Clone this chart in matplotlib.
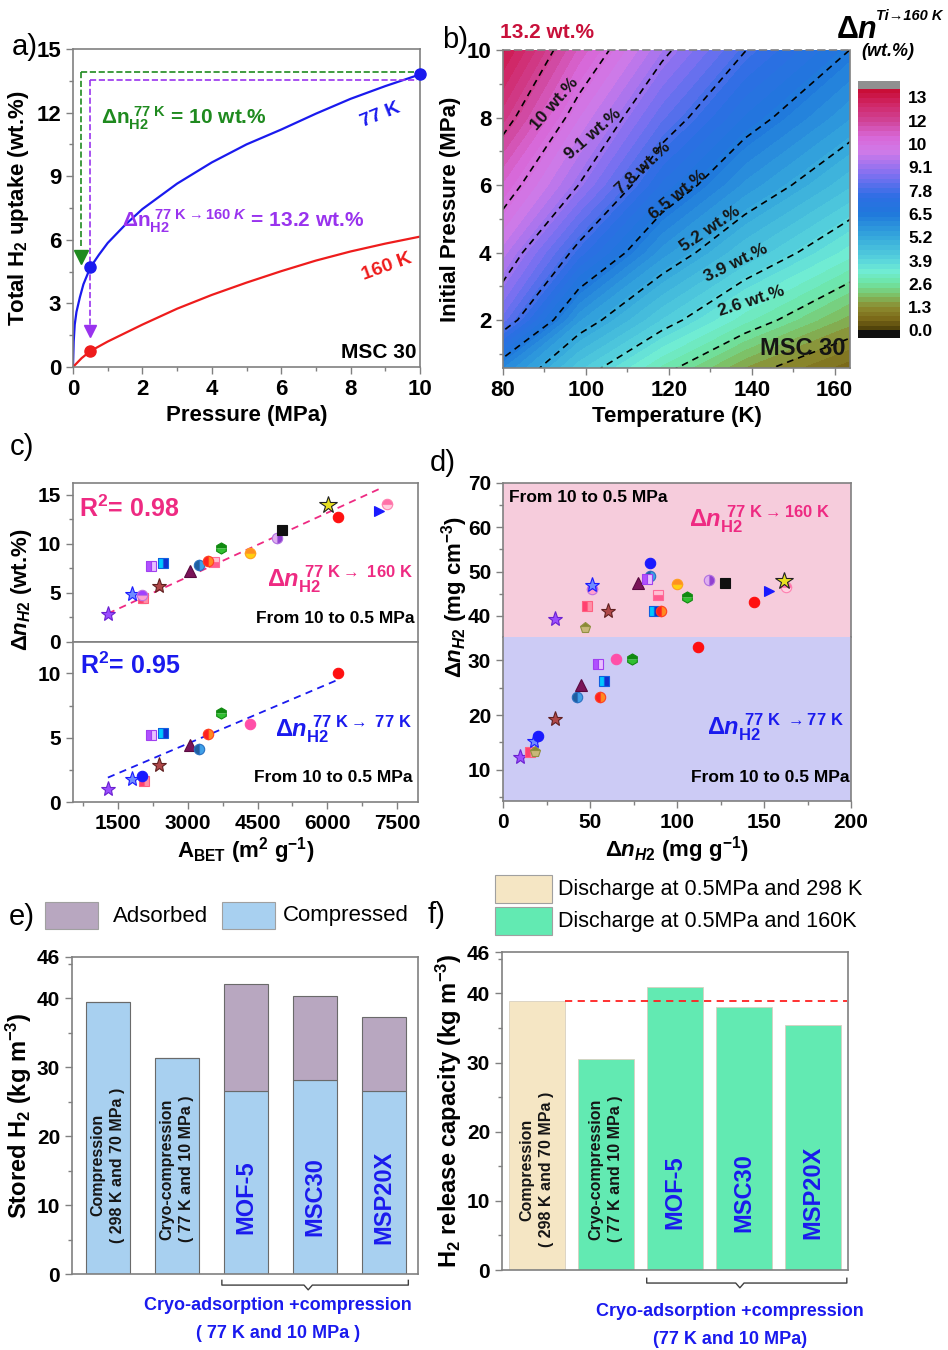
"""Hydrogen storage summary figure: isotherms, delivery map, correlations, bar charts.

Six panels laid out on one 948x1350 px canvas; axes are placed by pixel boxes.
"""

import matplotlib

matplotlib.use("Agg")
import matplotlib.pyplot as plt
import numpy as np
from matplotlib.colors import LinearSegmentedColormap
from matplotlib.patches import Rectangle
from matplotlib.ticker import MultipleLocator

# ---------------------------------------------------------------- data
# a) MSC 30 isotherms (pressure in MPa, uptake in wt.%)
a_p77 = [0, 0.02, 0.05, 0.1, 0.2, 0.3, 0.5, 0.75, 1, 1.5, 2, 3, 4, 5, 6, 7, 8, 9, 10]
a_n77 = [0, 1.2, 2.0, 2.6, 3.3, 3.9, 4.7, 5.3, 5.85, 6.7, 7.45, 8.65, 9.65, 10.5,
         11.2, 11.95, 12.65, 13.25, 13.8]
a_p160 = [0, 0.25, 0.5, 1, 2, 3, 4, 5, 6, 7, 8, 9, 10]
a_n160 = [0, 0.42, 0.75, 1.2, 2.0, 2.75, 3.4, 3.98, 4.52, 5.02, 5.45, 5.82, 6.15]

# b) deliverable amount (wt.%) read on a coarse temperature x pressure grid
b_temp = [78.3, 98.3, 118.3, 138.3, 164.0]
b_pres = [0.5, 2, 4, 6, 8, 10]
b_dn = [
    [6.14, 4.22, 2.75, 1.48, 0.55],
    [8.58, 5.58, 4.20, 3.00, 1.70],
    [9.83, 7.56, 5.68, 4.51, 3.28],
    [10.97, 9.09, 7.08, 5.74, 4.52],
    [12.20, 10.06, 8.26, 6.84, 5.56],
    [13.20, 11.05, 9.28, 7.83, 6.48],
]
b_line_levels = [1.3, 2.6, 3.9, 5.2, 6.5, 7.8, 9.1, 10.4, 11.7]
b_label_text = ["10 wt.%", "9.1 wt.%", "7.8 wt.%", "6.5 wt.%", "5.2 wt.%", "3.9 wt.%", "2.6 wt.%"]
b_label_t = [92.5, 101.7, 113.7, 122.2, 129.9, 136.3, 140.0]
b_label_p = [8.4, 7.5, 6.5, 5.7, 4.7, 3.7, 2.55]
b_label_rot = [49, 41, 43, 39, 34, 26, 18]
b_cbar_ticks = [0, 1.3, 2.6, 3.9, 5.2, 6.5, 7.8, 9.1, 10.4, 11.7, 13.0]
b_cbar_labels = ["0.0", "1.3", "2.6", "3.9", "5.2", "6.5", "7.8", "9.1", "10", "12", "13"]

# c) delivered amount vs BET surface area
c_top_mat = ["star_violet", "star_blue", "pent_olive", "sq_red_pink", "circ_purple_pink",
             "sq_purple", "sq_cyan", "star_brown", "tri_maroon", "circ_steel", "sq_pink",
             "circ_red_orange", "hex_green", "circ_orange", "circ_violet", "sq_black",
             "star_yellow", "circ_red", "tri_blue", "circ_pink_half"]
c_top_x = [1280, 1790, 2030, 2040, 2010, 2210, 2460, 2380, 3040, 3240, 3560, 3440, 3710,
           4330, 4910, 5030, 6020, 6220, 7110, 7280]
c_top_y = [2.9, 4.9, 4.4, 4.5, 4.8, 7.7, 8.0, 5.7, 7.2, 7.8, 8.2, 8.3, 9.6, 9.1, 10.6,
           11.4, 14.0, 12.7, 13.3, 14.1]
c_top_fit_x = [1280, 7120]
c_top_fit_y = [2.9, 15.6]

c_bot_mat = ["star_violet", "star_blue", "sq_red_pink", "circ_blue", "sq_purple", "sq_cyan",
             "star_brown", "tri_maroon", "circ_steel", "circ_red_orange", "hex_green",
             "circ_pink", "circ_red"]
c_bot_x = [1280, 1790, 2050, 2010, 2210, 2460, 2380, 3040, 3240, 3440, 3710, 4330, 6220]
c_bot_y = [1.0, 1.8, 1.6, 2.0, 5.2, 5.4, 2.9, 4.4, 4.1, 5.3, 6.9, 6.1, 10.0]
c_bot_fit_x = [1280, 6220]
c_bot_fit_y = [1.9, 9.5]

# d) volumetric vs gravimetric delivered amount
d_top_mat = ["star_violet", "circ_purple_pink", "star_blue", "sq_red_pink", "pent_olive",
             "star_brown", "tri_maroon", "circ_blue", "circ_steel", "sq_purple", "sq_pink",
             "sq_cyan", "circ_red_orange", "circ_orange", "hex_green", "circ_violet",
             "sq_black", "circ_red", "tri_blue", "circ_pink_half", "star_yellow"]
d_top_x = [29.8, 51.4, 51.4, 48.0, 47.0, 60.5, 77.5, 84.5, 84.5, 83.0, 89.2, 87.0, 90.6,
           99.8, 106.0, 118.4, 127.3, 144.0, 152.8, 162.8, 161.6]
d_top_y = [39.2, 46.0, 47.0, 42.2, 37.3, 41.2, 47.4, 52.0, 49.0, 48.3, 44.7, 41.1, 41.1,
           47.1, 44.2, 48.1, 47.5, 43.1, 45.7, 46.5, 47.9]

d_bot_mat = ["star_violet", "sq_red_pink", "pent_olive", "star_blue", "circ_blue",
             "star_brown", "circ_steel", "tri_maroon", "circ_red_orange", "sq_purple",
             "sq_cyan", "circ_pink", "hex_green", "circ_red"]
d_bot_x = [9.6, 15.4, 18.2, 17.8, 20.2, 29.8, 42.6, 45.1, 56.0, 54.7, 58.2, 64.9, 73.9, 112.3]
d_bot_y = [12.3, 13.2, 13.2, 15.2, 16.2, 19.2, 23.2, 25.5, 23.2, 29.3, 26.2, 30.2, 30.2, 32.4]

# e) / f) storage systems
e_cats = ["Compression\n( 298 K and 70 MPa )", "Cryo-compression\n( 77 K and 10 MPa )",
          "MOF-5", "MSC30", "MSP20X"]
f_cats = ["Compression\n( 298 K and 70 MPa )", "Cryo-compression\n( 77 K and 10 MPa )",
          "MOF-5", "MSC30", "MSP20X"]
e_compressed = [39.4, 31.35, 26.5, 28.2, 26.6]
e_adsorbed = [0, 0, 15.6, 12.1, 10.65]
f_release = [38.9, 30.5, 40.9, 38.0, 35.5]

# ---------------------------------------------------------------- style
plt.rcParams["font.family"] = ["Liberation Sans", "DejaVu Sans"]
plt.rcParams["font.weight"] = "bold"
plt.rcParams["axes.labelweight"] = "bold"
plt.rcParams["mathtext.fontset"] = "custom"
plt.rcParams["mathtext.rm"] = "Liberation Sans:bold"
plt.rcParams["mathtext.bf"] = "Liberation Sans:bold"
plt.rcParams["mathtext.sf"] = "Liberation Sans:bold"
plt.rcParams["mathtext.it"] = "Liberation Sans:italic:bold"
plt.rcParams["mathtext.default"] = "rm"

BLUE = "#1a1aee"
RED = "#ee1c1c"
GREEN = "#1f8a1f"
PURPLE = "#9933ee"
PINK = "#ee2a82"
GRAY = "#808080"

MARKERS = {
    "star_violet": dict(marker="*", mfc="#9b4dff", mec="#6a20d0", ms=11),
    "star_blue": dict(marker="*", mfc="#6f8cff", mec="#1a1aff", ms=11),
    "circ_purple_pink": dict(marker="o", fillstyle="top", mfc="#a040ff", mfcalt="#ffa0d0", mec="#c070e0"),
    "sq_red_pink": dict(marker="s", fillstyle="left", mfc="#ff4070", mfcalt="#ff90a8", mec="#ff6080"),
    "pent_olive": dict(marker="p", fillstyle="top", mfc="#8a8a30", mfcalt="#c8b878", mec="#909040", ms=8),
    "star_brown": dict(marker="*", mfc="#b04848", mec="#602020", ms=11),
    "tri_maroon": dict(marker="^", mfc="#7a1458", mec="#5a0a40", ms=8.5),
    "circ_blue": dict(marker="o", mfc="#1a1aff", mec="#1a1aff"),
    "circ_steel": dict(marker="o", fillstyle="left", mfc="#1f5fa0", mfcalt="#3fa0e8", mec="#2a70c0"),
    "sq_purple": dict(marker="s", fillstyle="left", mfc="#b050ff", mfcalt="#e8c0ff", mec="#a040f0"),
    "sq_cyan": dict(marker="s", fillstyle="left", mfc="#00c8ff", mfcalt="#1030d0", mec="#1060e0"),
    "circ_red_orange": dict(marker="o", fillstyle="left", mfc="#ff2020", mfcalt="#ff8a20", mec="#ff4020"),
    "sq_pink": dict(marker="s", fillstyle="bottom", mfc="#ff5c90", mfcalt="#ffc0d4", mec="#ff6a98"),
    "hex_green": dict(marker="h", fillstyle="top", mfc="#108a10", mfcalt="#30c030", mec="#108a10", ms=8),
    "circ_orange": dict(marker="o", fillstyle="top", mfc="#ff9020", mfcalt="#ffd010", mec="#ffa020"),
    "circ_pink": dict(marker="o", mfc="#ff4fa8", mec="#ff4fa8"),
    "circ_violet": dict(marker="o", fillstyle="right", mfc="#9040d0", mfcalt="#e0b0f0", mec="#b070e0"),
    "sq_black": dict(marker="s", mfc="#101010", mec="#101010"),
    "star_yellow": dict(marker="*", mfc="#e8e020", mec="#202020", ms=13),
    "circ_red": dict(marker="o", mfc="#ff1010", mec="#ff1010"),
    "tri_blue": dict(marker=">", mfc="#1a1aff", mec="#1a1aff"),
    "circ_pink_half": dict(marker="o", fillstyle="top", mfc="#ff70a8", mfcalt="#ffd0e0", mec="#ff80b0"),
}

W, H = 948, 1350
fig = plt.figure(figsize=(W / 100, H / 100), dpi=100)


def add_ax(left, top, right, bottom):
    return fig.add_axes([left / W, 1 - bottom / H, (right - left) / W, (bottom - top) / H])


def ftext(x, y, s, **kw):
    return fig.text(x / W, 1 - y / H, s, **kw)


def style_ax(ax, size=15):
    for sp in ax.spines.values():
        sp.set_color(GRAY)
        sp.set_linewidth(1.2)
    ax.tick_params(which="both", direction="out", color=GRAY, width=1, labelsize=size)
    ax.tick_params(which="major", length=5)
    ax.tick_params(which="minor", length=3)


def scatter_materials(ax, xs, ys, mats):
    for x, y, m in zip(xs, ys, mats):
        kw = dict(MARKERS[m])
        kw.setdefault("ms", 7.5)
        ax.plot([x], [y], linestyle="none", mew=0.8, zorder=3, **kw)


# ---------------------------------------------------------------- a)
ax = add_ax(73, 49, 420, 367)
style_ax(ax, 16)
ax.plot(a_p77, a_n77, color=BLUE, lw=1.6)
ax.plot(a_p160, a_n160, color=RED, lw=1.6)
ax.plot([0.24, 0.24], [13.9, 5.6], ls="--", color=GREEN, lw=1.2)
ax.plot([0.24, 10], [13.9, 13.9], ls="--", color=GREEN, lw=1.2)
ax.plot([0.24], [5.2], marker="v", ms=10, color=GREEN)
ax.plot([0.5, 0.5], [13.56, 2.0], ls="--", color=PURPLE, lw=1.2)
ax.plot([0.5, 9.9], [13.56, 13.56], ls="--", color=PURPLE, lw=1.2)
ax.plot([0.5], [1.7], marker="v", ms=8, color=PURPLE)
ax.plot([0.5, 10], [4.7, 13.8], "o", color=BLUE, ms=8, clip_on=False, zorder=4)
ax.plot([0.5], [0.75], "o", color=RED, ms=8, zorder=4)
ax.text(0.8, 11.75, r"$\Delta n_{H2}^{\ 77\ K}$ = 10 wt.%", color=GREEN, fontsize=15, va="center")
ax.text(1.42, 6.85, r"$\Delta n_{H2}^{\ 77\ K\rightarrow\mathit{160\ K}}$ = 13.2 wt.%",
        color=PURPLE, fontsize=15, va="center")
ax.text(8.85, 11.9, "77 K", color=BLUE, fontsize=14, rotation=22, ha="center", va="center")
ax.text(9.04, 4.74, "160 K", color=RED, fontsize=14, rotation=20, ha="center", va="center")
ax.text(9.9, 0.7, "MSC 30", fontsize=15, ha="right", va="center")
ax.set_xlim(0, 10)
ax.set_ylim(0, 15)
ax.xaxis.set_major_locator(MultipleLocator(2))
ax.xaxis.set_minor_locator(MultipleLocator(1))
ax.yaxis.set_major_locator(MultipleLocator(3))
ax.yaxis.set_minor_locator(MultipleLocator(1.5))
ax.set_xlabel("Pressure (MPa)", fontsize=16)
ax.set_ylabel("Total H$_2$ uptake (wt.%)", fontsize=16, labelpad=4)

# ---------------------------------------------------------------- b)
cmap = LinearSegmentedColormap.from_list("dn", [
    (0.0 / 13.5, "#4a3c08"), (0.6 / 13.5, "#7a6818"), (1.3 / 13.5, "#8c8c30"),
    (2.0 / 13.5, "#7cc46a"), (2.6 / 13.5, "#6ee4a4"), (3.3 / 13.5, "#70ecd4"),
    (3.9 / 13.5, "#58d4dc"), (5.2 / 13.5, "#35a8dc"), (6.5 / 13.5, "#1f78dc"),
    (7.5 / 13.5, "#2d6ee4"), (8.5 / 13.5, "#7070f0"), (9.1 / 13.5, "#9872f0"),
    (10.0 / 13.5, "#d07ae8"), (10.8 / 13.5, "#d868d8"), (11.7 / 13.5, "#d04498"),
    (12.6 / 13.5, "#d02868"), (1.0, "#c80a30"),
])
cmap.set_over("#909090")
cmap.set_under("#101010")

ax = add_ax(503, 50, 850, 368)
style_ax(ax, 16)
tg, pg = np.meshgrid(b_temp, b_pres)
zz = np.array(b_dn)
cf = ax.contourf(tg, pg, zz, levels=np.linspace(0, 13.5, 52), cmap=cmap, extend="both")
ax.contour(tg, pg, zz, levels=b_line_levels, colors="k", linewidths=1.2,
           linestyles=[(0, (4, 3))])
for s, t, p, r in zip(b_label_text, b_label_t, b_label_p, b_label_rot):
    ax.text(t, p, s, fontsize=12.5, rotation=r, ha="center", va="center",
            rotation_mode="anchor", color="#151515")
ax.text(162.5, 1.15, "MSC 30", fontsize=17, ha="right", va="center", color="#151515")
ax.spines["top"].set_linestyle((0, (4, 3)))
ax.set_xlim(80, 163.7)
ax.set_ylim(0.58, 10)
ax.xaxis.set_major_locator(MultipleLocator(20))
ax.xaxis.set_minor_locator(MultipleLocator(10))
ax.yaxis.set_major_locator(MultipleLocator(2))
ax.yaxis.set_minor_locator(MultipleLocator(1))
ax.set_xlabel("Temperature (K)", fontsize=16)
ax.set_ylabel("Initial Pressure (MPa)", fontsize=16)

cax = add_ax(858, 81, 900, 338)
cb = fig.colorbar(cf, cax=cax, extend="both", extendrect=True, extendfrac=0.031)
cb.set_ticks(b_cbar_ticks)
cb.set_ticklabels(b_cbar_labels)
cb.outline.set_visible(False)
cax.tick_params(length=0, labelsize=12.5, pad=6)
ftext(547, 32, "13.2 wt.%", color="#c8103a", fontsize=15, ha="center", va="center")
ftext(836, 38, r"$\mathit{\Delta n}$", fontsize=22, ha="left", va="baseline")
ftext(876, 20, "Ti\u2192160 K", fontsize=10.5, style="italic", ha="left", va="baseline")
ftext(888, 52, "(wt.%)", fontsize=13, style="italic", ha="center", va="center")

# ---------------------------------------------------------------- c)
ax_ct = add_ax(73, 483, 418, 642)
ax_cb = add_ax(73, 642, 418, 802)
for ax in (ax_ct, ax_cb):
    style_ax(ax, 15)
    ax.set_xlim(530, 7950)
    ax.xaxis.set_major_locator(MultipleLocator(1500))
    ax.xaxis.set_minor_locator(MultipleLocator(750))
    ax.yaxis.set_major_locator(MultipleLocator(5))
    ax.yaxis.set_minor_locator(MultipleLocator(2.5))
ax_ct.tick_params(axis="x", which="both", labelbottom=False, length=0)
ax_ct.set_ylim(0, 16.2)
ax_cb.set_ylim(0, 12.45)
ax_cb.set_yticks([0, 5, 10])
ax_ct.plot(c_top_fit_x, c_top_fit_y, ls=(0, (4, 3)), color=PINK, lw=1.3)
ax_cb.plot(c_bot_fit_x, c_bot_fit_y, ls=(0, (4, 3)), color=BLUE, lw=1.3)
scatter_materials(ax_ct, c_top_x, c_top_y, c_top_mat)
scatter_materials(ax_cb, c_bot_x, c_bot_y, c_bot_mat)
ax_ct.text(650, 13.6, "R$^2$= 0.98", color=PINK, fontsize=18, va="center")
ax_cb.text(680, 10.6, "R$^2$= 0.95", color=BLUE, fontsize=18, va="center")
ax_ct.text(4700, 5.65, r"$\mathit{\Delta n}_{H2}^{\ 77\ K\rightarrow\ 160\ K}$", color=PINK,
           fontsize=17, va="baseline")
ax_cb.text(4870, 5.08, r"$\mathit{\Delta n}_{H2}^{\ 77\ K\rightarrow\ 77\ K}$", color=BLUE,
           fontsize=17, va="baseline")
ax_ct.text(7870, 2.35, "From 10 to 0.5 MPa", fontsize=12.5, ha="right", va="center")
ax_cb.text(7830, 1.9, "From 10 to 0.5 MPa", fontsize=12.5, ha="right", va="center")
ax_cb.set_xlabel(r"A$_{BET}$ (m$^2$ g$^{-1}$)", fontsize=16, labelpad=2)
ftext(21, 590, r"$\mathit{\Delta n}_{\mathit{H2}}$ (wt.%)", fontsize=16, rotation=90,
      ha="center", va="center")

# ---------------------------------------------------------------- d)
ax_dt = add_ax(503, 483, 851, 637)
ax_db = add_ax(503, 637, 851, 801)
for ax in (ax_dt, ax_db):
    style_ax(ax, 15)
    ax.set_xlim(0, 200)
    ax.xaxis.set_major_locator(MultipleLocator(50))
    ax.xaxis.set_minor_locator(MultipleLocator(25))
    ax.yaxis.set_major_locator(MultipleLocator(10))
    ax.yaxis.set_minor_locator(MultipleLocator(5))
ax_dt.set_facecolor("#f6ccdc")
ax_db.set_facecolor("#cccbf5")
ax_dt.spines["bottom"].set_visible(False)
ax_db.spines["top"].set_visible(False)
ax_dt.tick_params(axis="x", which="both", labelbottom=False, length=0)
ax_dt.set_ylim(35.25, 70)
ax_db.set_ylim(4.3, 34.24)
scatter_materials(ax_dt, d_top_x, d_top_y, d_top_mat)
scatter_materials(ax_db, d_bot_x, d_bot_y, d_bot_mat)
ax_dt.text(3.5, 66.8, "From 10 to 0.5 MPa", fontsize=12.5, va="center")
ax_dt.text(107, 60.3, r"$\mathit{\Delta n}_{H2}^{\ 77\ K\rightarrow 160\ K}$", color=PINK,
           fontsize=17, va="baseline")
ax_db.text(117, 16.4, r"$\mathit{\Delta n}_{H2}^{\ 77\ K\ \rightarrow 77\ K}$", color=BLUE,
           fontsize=17, va="baseline")
ax_db.text(199, 8.5, "From 10 to 0.5 MPa", fontsize=12.5, ha="right", va="center")
ax_db.set_xlabel(r"$\mathit{\Delta n}_{\mathit{H2}}$ (mg g$^{-1}$)", fontsize=16, labelpad=2)
ftext(455, 597, r"$\mathit{\Delta n}_{\mathit{H2}}$ (mg cm$^{-3}$)", fontsize=16, rotation=90,
      ha="center", va="center")


# ---------------------------------------------------------------- e) / f)
def draw_brace(ax, x0, x1, xm, y, d):
    xs = [x0, x0, xm - 0.06, xm, xm + 0.06, x1, x1]
    ys = [y + d, y, y, y - d, y, y, y + d]
    ax.plot(xs, ys, color="#404040", lw=1, transform=ax.get_xaxis_transform(), clip_on=False)


def bar_texts(ax, cats, low_y):
    for i, s in enumerate(cats):
        if "\n" in s:
            ax.text(i, low_y[i], s, rotation=90, ha="center", va="bottom", fontsize=11.5,
                    multialignment="center", linespacing=1.4, color="#151515")
        else:
            ax.text(i, 11.2, s, rotation=90, ha="center", va="center", fontsize=17, color=BLUE)


x5 = np.arange(len(e_cats))
ax = add_ax(72, 957, 418, 1274)
style_ax(ax, 15)
ax.bar(x5, e_compressed, width=0.64, color="#a8d0f0", edgecolor="#6a6a6a", lw=0.8)
ax.bar(x5, e_adsorbed, width=0.64, bottom=e_compressed, color="#b8a7c0", edgecolor="#6a6a6a", lw=0.8)
bar_texts(ax, e_cats, [4.5, 4.6])
ax.set_xlim(-0.52, 4.49)
ax.set_ylim(0, 46)
ax.set_xticks([])
ax.set_yticks([0, 10, 20, 30, 40, 46])
ax.yaxis.set_minor_locator(MultipleLocator(5))
ax.set_ylabel("Stored H$_2$ (kg m$^{-3}$)", fontsize=17, labelpad=2)
draw_brace(ax, 1.65, 4.35, 2.9, -0.035, 0.015)
ftext(278, 1306, "Cryo-adsorption +compression", color=BLUE, fontsize=13, ha="center", va="center")
ftext(278, 1334, "( 77 K and 10 MPa )", color=BLUE, fontsize=13, ha="center", va="center")

ax = add_ax(502, 952, 848, 1270)
style_ax(ax, 15)
f_colors = ["#f5e6c4"] + ["#62eab2"] * (len(f_release) - 1)
ax.bar(x5, f_release, width=0.81, color=f_colors, edgecolor="#d8d0c0", lw=0.6)
ax.plot([0.405, 4.49], [f_release[0], f_release[0]], ls=(0, (4, 3)), color="#ff2020", lw=1.3)
bar_texts(ax, f_cats, [3.3, 4.0])
ax.set_xlim(-0.507, 4.507)
ax.set_ylim(0, 46)
ax.set_xticks([])
ax.set_yticks([0, 10, 20, 30, 40, 46])
ax.yaxis.set_minor_locator(MultipleLocator(5))
ax.set_ylabel("H$_2$ release capacity (kg m$^{-3}$)", fontsize=17, labelpad=2)
draw_brace(ax, 1.59, 4.49, 2.94, -0.041, 0.015)
ftext(730, 1312, "Cryo-adsorption +compression", color=BLUE, fontsize=13, ha="center", va="center")
ftext(730, 1339, "(77 K and 10 MPa)", color=BLUE, fontsize=13, ha="center", va="center")

# legends drawn as figure patches
for (l, t, r, b), fc in [((45, 902, 98, 929), "#b8a7c0"), ((222, 902, 275, 929), "#a8d0f0"),
                         ((495, 875, 552, 903), "#f5e6c4"), ((495, 907, 552, 935), "#62eab2")]:
    fig.add_artist(Rectangle((l / W, 1 - b / H), (r - l) / W, (b - t) / H,
                             transform=fig.transFigure, fc=fc, ec="#a0a0a0", lw=0.8))
ftext(113, 916, "Adsorbed", fontsize=16, fontweight="normal", va="center")
ftext(283, 916, "Compressed", fontsize=16, fontweight="normal", va="center")
ftext(558, 889, "Discharge at 0.5MPa and 298 K", fontsize=15.5, fontweight="normal", va="center")
ftext(558, 921, "Discharge at 0.5MPa and 160K", fontsize=15.5, fontweight="normal", va="center")

# panel letters
for s, x, y in [("a)", 25, 47), ("b)", 455, 40), ("c)", 22, 447), ("d)", 443, 463),
                ("e)", 22, 917), ("f)", 437, 915)]:
    ftext(x, y, s, fontsize=21, fontweight="normal", ha="center", va="center")

fig.savefig("out.png", dpi=100)
